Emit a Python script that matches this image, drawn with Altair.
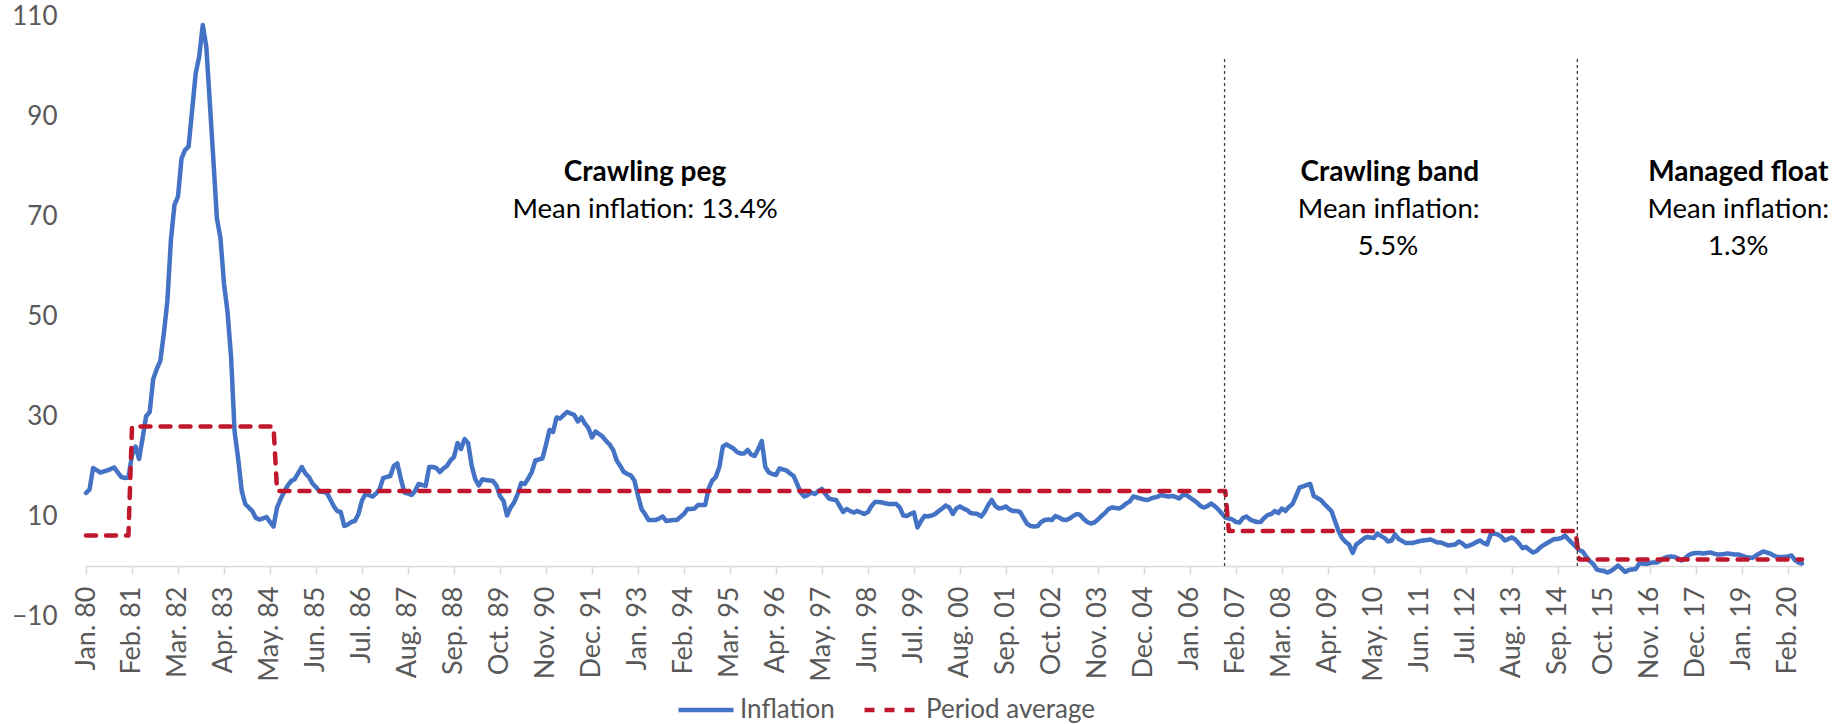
import json

import altair as alt
import pandas as pd

# Monthly inflation (%), Jan 1980 - Jun 2020, one row per year
inflation = [
    14.6, 15.3, 19.6, 19.2, 18.7, 18.9, 19.1, 19.4, 19.7, 18.7, 17.8, 17.6,  # 1980
    17.7, 22.2, 23.9, 21.4, 25.6, 30.0, 30.8, 37.4, 39.4, 41.0, 46.5, 53.0,  # 1981
    65.2, 72.2, 73.9, 81.5, 83.2, 83.9, 91.2, 98.5, 101.9, 108.2, 103.9, 92.6,  # 1982
    81.2, 69.5, 65.6, 56.5, 50.8, 41.8, 26.9, 21.5, 15.1, 12.4, 11.7, 11.0,  # 1983
    9.6, 9.3, 9.5, 9.8, 8.8, 7.9, 11.7, 13.4, 14.8, 16.1, 17.0, 17.4,  # 1984
    18.6, 19.8, 18.5, 17.8, 16.5, 15.8, 14.9, 14.8, 14.7, 13.4, 12.0, 11.0,  # 1985
    10.8, 8.0, 8.3, 8.8, 9.0, 10.4, 13.1, 14.4, 14.2, 13.9, 14.5, 15.4,  # 1986
    17.6, 17.8, 18.0, 20.0, 20.5, 17.4, 14.7, 14.5, 14.2, 15.0, 16.4, 16.2,  # 1987
    16.0, 19.8, 19.8, 19.6, 18.8, 19.5, 20.0, 21.1, 21.8, 24.6, 23.4, 25.4,  # 1988
    24.6, 20.1, 17.4, 16.1, 17.3, 17.2, 17.1, 17.0, 16.1, 14.0, 13.0, 10.1,  # 1989
    11.7, 12.7, 14.4, 16.6, 16.4, 17.5, 18.8, 21.1, 21.3, 21.5, 24.2, 27.2,  # 1990
    26.8, 29.7, 29.5, 30.2, 30.8, 30.5, 30.2, 28.9, 29.7, 28.5, 27.6, 25.7,  # 1991
    26.9, 26.4, 25.9, 25.0, 24.3, 23.2, 21.1, 20.0, 18.8, 18.4, 18.1, 17.1,  # 1992
    14.1, 11.4, 10.4, 9.2, 9.2, 9.2, 9.5, 9.9, 9.0, 9.1, 9.2, 9.2,  # 1993
    9.8, 10.4, 11.4, 11.4, 11.5, 12.2, 12.2, 12.2, 15.5, 17.1, 17.8, 19.8,  # 1994
    23.9, 24.3, 23.9, 23.5, 22.8, 22.5, 22.5, 23.2, 22.3, 22.0, 23.4, 25.0,  # 1995
    19.8, 18.7, 18.4, 18.2, 19.5, 19.3, 19.1, 18.5, 18.0, 16.4, 14.7, 13.9,  # 1996
    14.2, 14.7, 14.4, 15.0, 15.4, 14.4, 13.5, 13.3, 13.2, 12.0, 10.8, 11.4,  # 1997
    11.0, 10.7, 11.0, 10.7, 10.4, 10.8, 12.0, 12.8, 12.8, 12.7, 12.5, 12.4,  # 1998
    12.4, 12.4, 11.7, 10.1, 10.0, 10.4, 10.7, 7.7, 9.0, 10.0, 9.9, 10.1,  # 1999
    10.4, 11.0, 11.5, 12.1, 11.7, 10.4, 11.5, 11.9, 11.5, 11.2, 10.6, 10.5,  # 2000
    10.4, 9.9, 10.8, 12.2, 13.2, 12.0, 11.5, 11.6, 11.9, 11.3, 11.0, 11.0,  # 2001
    10.8, 9.6, 8.4, 8.0, 7.9, 8.0, 8.8, 9.2, 9.3, 9.2, 10.0, 9.7,  # 2002
    9.3, 9.2, 9.5, 10.0, 10.4, 10.2, 9.4, 8.8, 8.5, 8.7, 9.3, 10.0,  # 2003
    10.6, 11.4, 11.7, 11.6, 11.5, 11.9, 12.5, 12.9, 13.9, 13.7, 13.5, 13.3,  # 2004
    13.2, 13.5, 13.7, 13.9, 14.2, 14.0, 13.9, 14.0, 13.8, 13.5, 14.2, 14.2,  # 2005
    13.7, 13.2, 12.7, 12.0, 11.7, 12.0, 12.5, 12.0, 11.3, 10.5, 9.7, 9.5,  # 2006
    9.3, 8.8, 8.7, 9.6, 9.9, 9.3, 9.0, 8.8, 8.8, 9.6, 10.2, 10.4,  # 2007
    11.0, 10.6, 11.5, 11.0, 11.8, 12.4, 14.0, 15.7, 15.9, 16.2, 16.4, 14.0,  # 2008
    13.6, 13.2, 12.4, 11.7, 11.0, 9.0, 7.0, 5.6, 4.8, 4.3, 2.6, 4.3,  # 2009
    4.8, 5.4, 5.8, 5.7, 5.6, 6.5, 6.0, 5.6, 4.9, 5.1, 6.3, 5.4,  # 2010
    5.0, 4.6, 4.6, 4.6, 4.8, 5.0, 5.1, 5.2, 5.3, 5.0, 4.7, 4.7,  # 2011
    4.4, 4.1, 4.2, 4.3, 4.9, 4.5, 3.9, 4.1, 4.4, 4.8, 5.1, 4.6,  # 2012
    4.3, 6.3, 6.5, 6.3, 5.9, 5.1, 5.4, 5.7, 5.3, 4.5, 3.6, 3.8,  # 2013
    3.2, 2.7, 3.0, 3.7, 4.2, 4.6, 5.0, 5.4, 5.4, 5.6, 6.1, 5.3,  # 2014
    4.6, 3.9, 3.2, 2.9, 1.9, 1.0, 0.4, -0.7, -0.9, -1.0, -1.3, -1.0,  # 2015
    -0.5, 0.1, -0.5, -1.2, -0.8, -0.7, -0.6, 0.5, 0.5, 0.4, 0.6, 0.7,  # 2016
    0.7, 1.1, 1.6, 1.8, 1.9, 1.8, 1.5, 1.1, 1.6, 2.2, 2.5, 2.6,  # 2017
    2.6, 2.5, 2.6, 2.7, 2.5, 2.3, 2.3, 2.4, 2.5, 2.4, 2.3, 2.3,  # 2018
    2.1, 1.8, 1.7, 1.6, 2.1, 2.5, 2.9, 2.7, 2.5, 2.1, 1.8, 1.8,  # 2019
    1.8, 1.9, 2.1, 1.2, 0.7, 0.5,  # 2020
]

# Period averages (%) and the last month index (0 = Jan 1980) of each period
period_levels = [6.1, 27.9, 15.0, 7.0, 1.3]
period_last_month = [12, 53, 322, 421, len(inflation) - 1]

# Exchange-rate regime boundaries (month index) for the dotted separators
regime_breaks = [321.8, 421.5]
separator_top = 102

series_names = ["Inflation", "Period average"]
series_colors = ["#4472C4", "#C0172D"]

# Category labels shown every 13 months
tick_labels = [
    "Jan. 80", "Feb. 81", "Mar. 82", "Apr. 83", "May. 84", "Jun. 85", "Jul. 86",
    "Aug. 87", "Sep. 88", "Oct. 89", "Nov. 90", "Dec. 91", "Jan. 93", "Feb. 94",
    "Mar. 95", "Apr. 96", "May. 97", "Jun. 98", "Jul. 99", "Aug. 00", "Sep. 01",
    "Oct. 02", "Nov. 03", "Dec. 04", "Jan. 06", "Feb. 07", "Mar. 08", "Apr. 09",
    "May. 10", "Jun. 11", "Jul. 12", "Aug. 13", "Sep. 14", "Oct. 15", "Nov. 16",
    "Dec. 17", "Jan. 19", "Feb. 20",
]
tick_step = 13
y_ticks = [-10, 10, 30, 50, 70, 90, 110]

# Regime annotations: heading, detail lines, anchor month and value
headings = [
    ("Crawling peg", 158.0, 78.6),
    ("Crawling band", 368.5, 78.6),
    ("Managed float", 467.0, 78.6),
]
details = [
    ("Mean inflation: 13.4%", 158.0, 71.2),
    ("Mean inflation:", 368.2, 71.2),
    ("5.5%", 368.0, 63.8),
    ("Mean inflation:", 467.0, 71.2),
    ("1.3%", 467.0, 63.8),
]

# ---- tables -------------------------------------------------------------
n = len(inflation)
period_avg = []
start = 0
for level, last in zip(period_levels, period_last_month):
    period_avg += [level] * (last - start + 1)
    start = last + 1

series_df = pd.concat([
    pd.DataFrame({"month": range(n), "value": inflation, "series": series_names[0]}),
    pd.DataFrame({"month": range(n), "value": period_avg, "series": series_names[1]}),
])
breaks_df = pd.DataFrame({"month": regime_breaks, "low": 0, "high": separator_top})
heading_df = pd.DataFrame(headings, columns=["text", "month", "value"])
detail_df = pd.DataFrame(details, columns=["text", "month", "value"])

FONT = "Lato"
GREY = "#595959"

x_scale = alt.Scale(domain=[0, n - 1], nice=False, zero=False)
y_scale = alt.Scale(domain=[-10, 110], nice=False, zero=False)

label_expr = json.dumps(tick_labels) + f"[round(datum.value / {tick_step})]"

x_axis = alt.Axis(
    values=[i * tick_step for i in range(len(tick_labels))],
    labelExpr=label_expr,
    labelAngle=-90,
    labelFont=FONT,
    labelFontSize=27,
    labelColor=GREY,
    labelPadding=12,
    labelOverlap=False,
    labelFlush=False,
    labelBound=False,
    tickSize=8,
    tickColor="#D9D9D9",
    tickWidth=1.5,
    domainColor="#D9D9D9",
    domainWidth=1.5,
    grid=False,
    title=None,
    offset=-50,
)
y_axis = alt.Axis(
    values=y_ticks,
    labelFont=FONT,
    labelFontSize=26,
    labelColor=GREY,
    labelPadding=29,
    domain=False,
    ticks=False,
    tickSize=0,
    grid=False,
    title=None,
)

legend = alt.Legend(
    title=None,
    orient="none",
    direction="horizontal",
    legendX=590,
    legendY=664,
    symbolType="stroke",
    symbolSize=55 * 55,
    symbolStrokeWidth=4.5,
    labelFont=FONT,
    labelFontSize=26,
    labelColor=GREY,
    labelOffset=4,
    labelLimit=400,
    columnPadding=20,
    padding=0,
)

lines = alt.Chart(series_df).mark_line(strokeWidth=4.5, strokeCap="round", strokeJoin="round").encode(
    x=alt.X("month:Q", scale=x_scale, axis=x_axis),
    y=alt.Y("value:Q", scale=y_scale, axis=y_axis),
    color=alt.Color("series:N", scale=alt.Scale(domain=series_names, range=series_colors), legend=legend),
    strokeDash=alt.StrokeDash(
        "series:N",
        scale=alt.Scale(domain=series_names, range=[[1, 0], [10, 10]]),
        legend=legend,
    ),
    order="month:Q",
)

separators = alt.Chart(breaks_df).mark_rule(color="#404040", strokeWidth=1.3, strokeDash=[3, 3]).encode(
    x=alt.X("month:Q", scale=x_scale, axis=x_axis),
    y=alt.Y("low:Q", scale=y_scale, axis=y_axis),
    y2="high:Q",
)

heading_text = alt.Chart(heading_df).mark_text(
    font=FONT, fontSize=28, fontWeight="bold", color="#000000", align="center", baseline="middle"
).encode(
    x=alt.X("month:Q", scale=x_scale, axis=x_axis),
    y=alt.Y("value:Q", scale=y_scale, axis=y_axis),
    text="text:N",
)

detail_text = alt.Chart(detail_df).mark_text(
    font=FONT, fontSize=27.5, color="#000000", align="center", baseline="middle"
).encode(
    x=alt.X("month:Q", scale=x_scale, axis=x_axis),
    y=alt.Y("value:Q", scale=y_scale, axis=y_axis),
    text="text:N",
)

chart = (
    alt.layer(lines, separators, heading_text, detail_text)
    .properties(
        width=1716,
        height=600,
        padding={"left": 86, "top": 16, "right": 43, "bottom": 108},
        autosize=alt.AutoSizeParams(type="none"),
        background="#FFFFFF",
    )
    .configure_view(stroke=None)
)

chart.save("out.html", embed_options={"renderer": "svg", "actions": False})
